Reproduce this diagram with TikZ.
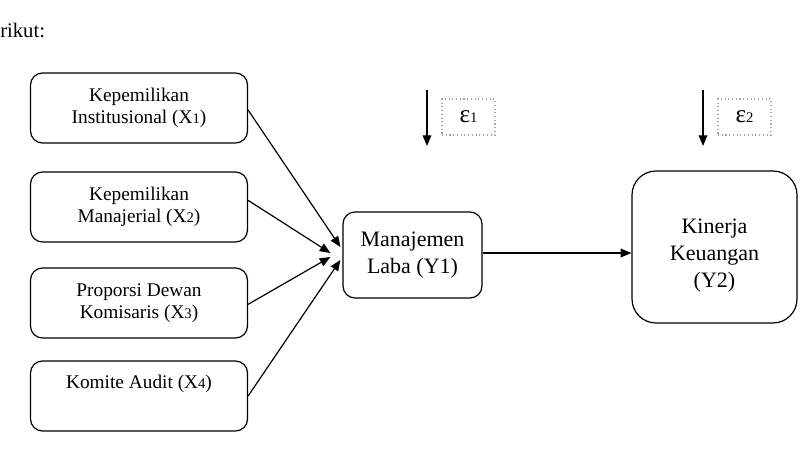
\documentclass[tikz,border=0pt]{standalone}
\usepackage{fontspec}
\setmainfont{Liberation Serif}
\usetikzlibrary{arrows.meta}
\newcommand{\subdig}[1]{{\fontsize{11}{11}\selectfont #1}}
\begin{document}
\begin{tikzpicture}[x=0.75pt,y=-0.75pt,
 box/.style={draw, line width=0.9pt, rounded corners=9pt, align=center, inner sep=0pt},
 xbox/.style={box, minimum width=162.75pt, minimum height=52.5pt, font=\fontsize{14.5}{16.5}\selectfont},
 bigtxt/.style={font=\fontsize{16.5}{20.5}\selectfont},
 arr/.style={line width=0.9pt, -{Triangle[length=8pt,width=6.5pt]}},
 eps/.style={draw=gray!70, dotted, line width=0.8pt, inner sep=0pt, minimum width=39.75pt, minimum height=27pt, font=\fontsize{19}{20}\selectfont}]
\useasboundingbox (0,0) rectangle (802,468);
\node[anchor=base west, font=\fontsize{15.5}{18}\selectfont, inner sep=0pt] (intro) at (0,37) {rikut:};
\node[xbox] (x1) at (139,108) {Kepemilikan\\Institusional (X\subdig{1})};
\node[xbox] (x2) at (139,207) {Kepemilikan\\Manajerial (X\subdig{2})};
\node[xbox] (x3) at (139,303) {Proporsi Dewan\\Komisaris (X\subdig{3})};
\node[xbox] (x4) at (139,396) {Komite Audit (X\subdig{4})\\\strut};
\node[box, bigtxt, minimum width=104.25pt, minimum height=64.5pt] (m) at (412.5,255) {Manajemen\\Laba (Y1)};
\node[box, rounded corners=18pt, minimum width=123.75pt, minimum height=114pt,
  label={[bigtxt, align=center, yshift=-6.5pt]center:Kinerja\\Keuangan\\(Y2)}] (k) at (714.5,247) {};
\node[eps] (e1) at (468.5,117) {ε\subdig{1}};
\node[eps] (e2) at (744.5,117) {ε\subdig{2}};
\coordinate (e1a) at (427,90);
\coordinate (e1b) at (427,146);
\coordinate (e2a) at (703,90);
\coordinate (e2b) at (703,146);
\draw[arr] (e1a) -- (e1b);
\draw[arr] (e2a) -- (e2b);
\draw[arr] ([yshift=-1.5pt]x1.east) -- ([shift={(-2,-8)}]m.west);
\draw[arr] ([yshift=5pt]x2.east) -- ([shift={(-12,-2)}]m.west);
\draw[arr] ([yshift=-1pt]x3.east) -- ([shift={(-12,2)}]m.west);
\draw[arr] ([yshift=0pt]x4.east) -- ([shift={(-2,5)}]m.west);
\draw[arr] ([yshift=1.5pt]m.east) -- ([yshift=1.5pt]m.east -| k.west);
\end{tikzpicture}
\end{document}
